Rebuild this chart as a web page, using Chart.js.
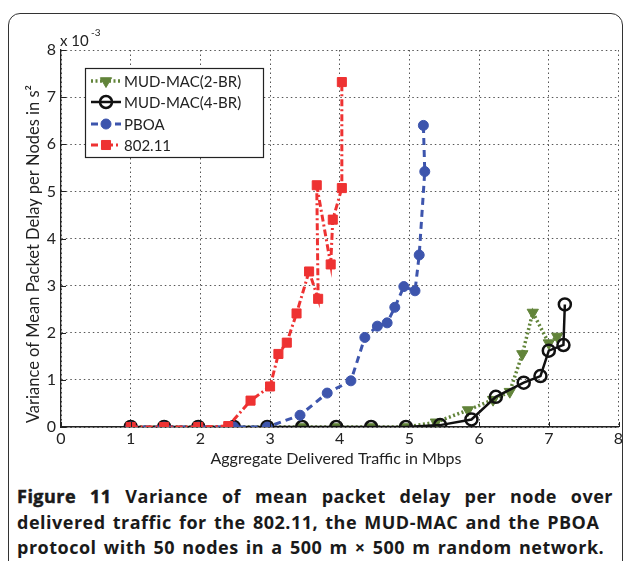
<!DOCTYPE html>
<html>
<head>
<meta charset="utf-8">
<script src="https://cdn.jsdelivr.net/npm/chart.js@4.4.0/dist/chart.umd.min.js"></script>
<style>
  body { margin: 0; background: #fff; width: 627px; height: 561px; overflow: hidden; position: relative; font-family: Lato, sans-serif; }
  #frame { position: absolute; left: 8px; top: 13px; width: 613px; height: 600px; border: 1.5px solid #333; border-radius: 12px; }
  #wrap { position: absolute; left: 0; top: 0; width: 627px; height: 470px; }
  #caption { position: absolute; left: 17px; top: 484px; width: 596px; color: #1a1a1a; font-family: "Open Sans", sans-serif; font-weight: bold; font-size: 18px; line-height: 25.5px; letter-spacing: 0.5px; word-spacing: 2px; }
  #caption div { white-space: nowrap; }
  #caption .just { text-align: justify; text-align-last: justify; }
  #caption b { font-weight: 700; -webkit-text-stroke: 0.5px #1a1a1a; }
</style>
</head>
<body>
<div id="frame"></div>
<div id="wrap"><canvas id="delayChart" width="627" height="470"></canvas></div>
<div id="caption">
  <div class="just"><b>Figure 11</b> Variance of mean packet delay per node over</div>
  <div>delivered traffic for the 802.11, the MUD-MAC and the PBOA</div>
  <div>protocol with 50 nodes in a 500 m × 500 m random network.</div>
</div>
<script>
// values (x in Mbps, y in units of 1e-3 s^2)
var tickValues = [0, 1, 2, 3, 4, 5, 6, 7, 8];
var xTitle = 'Aggregate Delivered Traffic in Mbps';
var yTitle = 'Variance of Mean Packet Delay per Nodes in s²';

var mud2X = [1, 1.48, 1.97, 2.48, 2.96, 3.46, 3.95, 4.45, 4.95, 5.38, 5.84, 6.2, 6.44, 6.62, 6.77, 7.0, 7.12];
var mud2Y = [0, 0, 0, 0, 0, 0, 0, 0, 0, 0.1, 0.36, 0.58, 0.75, 1.55, 2.43, 1.78, 1.92];

var mud4X = [1, 1.48, 1.97, 2.48, 2.96, 3.46, 3.95, 4.45, 4.95, 5.44, 5.89, 6.24, 6.64, 6.88, 7.0, 7.21, 7.23];
var mud4Y = [0, 0, 0, 0, 0, 0, 0, 0, 0, 0.04, 0.16, 0.64, 0.94, 1.08, 1.62, 1.74, 2.6];

var pboaX = [1, 1.48, 1.97, 2.48, 2.96, 3.43, 3.82, 4.16, 4.36, 4.54, 4.68, 4.79, 4.92, 5.08, 5.14, 5.22, 5.2];
var pboaY = [0, 0, 0, 0, 0, 0.25, 0.72, 0.98, 1.9, 2.14, 2.21, 2.54, 2.98, 2.89, 3.65, 5.42, 6.4];

var wifiX = [1, 1.48, 1.97, 2.4, 2.72, 3.0, 3.12, 3.24, 3.38, 3.56, 3.69, 3.67, 3.87, 3.9, 4.03, 4.03];
var wifiY = [0, 0, 0, 0.02, 0.56, 0.86, 1.55, 1.79, 2.41, 3.3, 2.72, 5.13, 3.45, 4.4, 5.07, 7.32];

function pts(xs, ys) {
    return xs.map(function(x, i) { return { x: x, y: ys[i] }; });
}

var GREEN = '#62843a', BLACK = '#111', BLUE = '#3d55ad', RED = '#ee3232';
var TEXT = '#222';

// inward tick marks, axis titles, exponent and the MATLAB-style legend
var matlabBits = {
    id: 'matlabBits',
    afterDraw: function(chart) {
        var ctx = chart.ctx;
        var a = chart.chartArea;
        var xs = chart.scales.x, ys = chart.scales.y;
        ctx.save();

        // inward ticks
        ctx.strokeStyle = '#222';
        ctx.lineWidth = 1;
        ctx.beginPath();
        tickValues.forEach(function(v) {
            var px = Math.round(xs.getPixelForValue(v)) + 0.5;
            ctx.moveTo(px, a.bottom);
            ctx.lineTo(px, a.bottom - 5);
            var py = Math.round(ys.getPixelForValue(v)) + 0.5;
            ctx.moveTo(a.left, py);
            ctx.lineTo(a.left + 5, py);
        });
        ctx.stroke();

        // axis titles
        ctx.fillStyle = TEXT;
        ctx.textAlign = 'center';
        ctx.textBaseline = 'middle';
        ctx.font = '16px Lato';
        ctx.fillText(xTitle, 336, 459);
        ctx.save();
        ctx.translate(34, 254);
        ctx.rotate(-Math.PI / 2);
        ctx.font = '16.5px Lato';
        ctx.fillText(yTitle, 0, 0);
        ctx.restore();

        // exponent label above the y axis
        ctx.textAlign = 'left';
        ctx.textBaseline = 'alphabetic';
        ctx.font = '15px Lato';
        ctx.fillText('x 10', 60, 46);
        ctx.font = '10px Lato';
        ctx.fillText('-3', 91, 36);

        // legend box
        ctx.fillStyle = '#fff';
        ctx.fillRect(85, 68, 178, 89);
        ctx.strokeStyle = '#222';
        ctx.lineWidth = 1.2;
        ctx.strokeRect(85.5, 68.5, 178, 89);
        var rows = [81, 102, 124, 145];
        chart.data.datasets.forEach(function(ds, i) {
            var y = rows[i];
            ctx.save();
            ctx.strokeStyle = ds.borderColor;
            ctx.lineWidth = ds.borderWidth;
            ctx.setLineDash(ds.borderDash || []);
            ctx.beginPath();
            ctx.moveTo(91, y);
            ctx.lineTo(121, y);
            ctx.stroke();
            ctx.restore();
            ctx.save();
            ctx.fillStyle = ds.pointBackgroundColor;
            ctx.strokeStyle = ds.pointBorderColor;
            ctx.lineWidth = ds.pointBorderWidth;
            Chart.helpers.drawPoint(ctx, {
                pointStyle: ds.pointStyle,
                rotation: ds.pointRotation || 0,
                radius: ds.pointRadius,
                borderWidth: ds.pointBorderWidth
            }, 106, y);
            ctx.restore();
            ctx.fillStyle = TEXT;
            ctx.font = '15px Lato';
            ctx.textBaseline = 'middle';
            ctx.fillText(ds.label, 124, y + 1);
        });
        ctx.restore();
    }
};

var ctx = document.getElementById('delayChart').getContext('2d');
var delayChart = new Chart(ctx, {
    type: 'scatter',
    data: {
        datasets: [{
            label: 'MUD-MAC(2-BR)',
            data: pts(mud2X, mud2Y),
            showLine: true,
            borderColor: GREEN,
            borderWidth: 3.5,
            borderDash: [2, 2.5],
            pointStyle: 'triangle',
            pointRotation: 180,
            pointRadius: 6.5,
            pointBackgroundColor: GREEN,
            pointBorderColor: GREEN,
            pointBorderWidth: 1,
            order: 4
        }, {
            label: 'MUD-MAC(4-BR)',
            data: pts(mud4X, mud4Y),
            showLine: true,
            borderColor: BLACK,
            borderWidth: 2.5,
            pointStyle: 'circle',
            pointRadius: 6,
            pointBackgroundColor: 'rgba(0,0,0,0)',
            pointBorderColor: BLACK,
            pointBorderWidth: 2.5,
            order: 3
        }, {
            label: 'PBOA',
            data: pts(pboaX, pboaY),
            showLine: true,
            borderColor: BLUE,
            borderWidth: 3,
            borderDash: [7, 5],
            pointStyle: 'circle',
            pointRadius: 5,
            pointBackgroundColor: BLUE,
            pointBorderColor: BLUE,
            pointBorderWidth: 1,
            order: 2
        }, {
            label: '802.11',
            data: pts(wifiX, wifiY),
            showLine: true,
            borderColor: RED,
            borderWidth: 3,
            borderDash: [7, 3, 2, 3],
            pointStyle: 'rect',
            pointRadius: 6.4,
            pointBackgroundColor: RED,
            pointBorderColor: RED,
            pointBorderWidth: 1,
            order: 1
        }]
    },
    options: {
        responsive: false,
        animation: false,
        layout: { padding: { left: 0, top: 50, right: 8, bottom: 0 } },
        plugins: {
            legend: { display: false },
            tooltip: { enabled: false }
        },
        scales: {
            x: {
                type: 'linear',
                min: 0,
                max: 8,
                afterBuildTicks: function(scale) {
                    scale.ticks = tickValues.map(function(v) { return { value: v }; });
                },
                afterFit: function(scale) { scale.height = 43; },
                grid: { color: '#555', lineWidth: 1, drawTicks: false },
                border: { color: '#222', width: 1.5, dash: [1.5, 3] },
                ticks: { color: TEXT, font: { family: 'Lato', size: 16 }, padding: 2 }
            },
            y: {
                type: 'linear',
                min: 0,
                max: 8,
                afterBuildTicks: function(scale) {
                    scale.ticks = tickValues.map(function(v) { return { value: v }; });
                },
                afterFit: function(scale) { scale.width = 61; },
                grid: { color: '#555', lineWidth: 1, drawTicks: false },
                border: { color: '#222', width: 1.3, dash: [1.5, 3] },
                ticks: { color: TEXT, font: { family: 'Lato', size: 16 }, padding: 5 }
            }
        }
    },
    plugins: [matlabBits]
});
</script>
</body>
</html>
